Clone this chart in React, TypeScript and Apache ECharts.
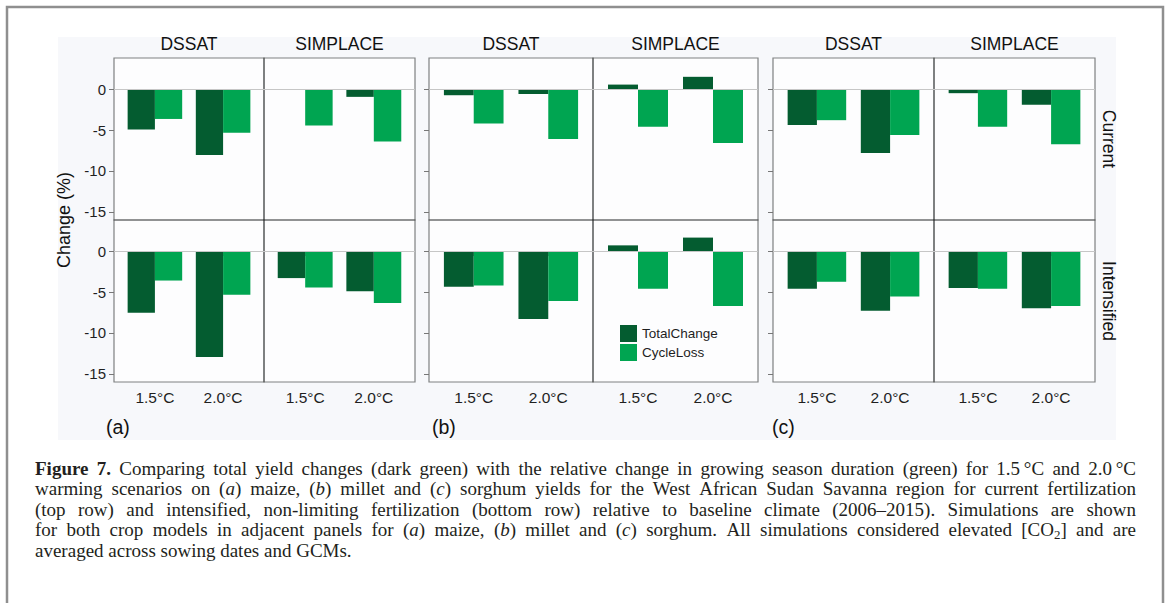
import React, { useEffect, useRef } from "react";
import * as echarts from "echarts";

// ---------- labels ----------
const CATEGORIES = ["1.5°C", "2.0°C"];
const MODELS = ["DSSAT", "SIMPLACE"];
const ROWS = ["Current", "Intensified"];
const CROP_LABELS = ["(a)", "(b)", "(c)"];
const SERIES_NAMES = ["TotalChange", "CycleLoss"];
const Y_TICKS = [-15, -10, -5, 0];
const Y_TITLE = "Change (%)";

// ---------- values: [1.5°C, 2.0°C] ----------
// (a) maize
const A_DSSAT_CURRENT_TOTAL = [-4.95, -8.05];
const A_DSSAT_CURRENT_CYCLE = [-3.65, -5.35];
const A_SIMPLACE_CURRENT_TOTAL = [0, -0.95];
const A_SIMPLACE_CURRENT_CYCLE = [-4.45, -6.4];
const A_DSSAT_INTENS_TOTAL = [-7.55, -12.95];
const A_DSSAT_INTENS_CYCLE = [-3.6, -5.35];
const A_SIMPLACE_INTENS_TOTAL = [-3.3, -4.9];
const A_SIMPLACE_INTENS_CYCLE = [-4.45, -6.35];
// (b) millet
const B_DSSAT_CURRENT_TOTAL = [-0.75, -0.6];
const B_DSSAT_CURRENT_CYCLE = [-4.2, -6.1];
const B_SIMPLACE_CURRENT_TOTAL = [0.55, 1.5];
const B_SIMPLACE_CURRENT_CYCLE = [-4.6, -6.6];
const B_DSSAT_INTENS_TOTAL = [-4.35, -8.3];
const B_DSSAT_INTENS_CYCLE = [-4.2, -6.1];
const B_SIMPLACE_INTENS_TOTAL = [0.7, 1.65];
const B_SIMPLACE_INTENS_CYCLE = [-4.6, -6.7];
// (c) sorghum
const C_DSSAT_CURRENT_TOTAL = [-4.4, -7.8];
const C_DSSAT_CURRENT_CYCLE = [-3.8, -5.6];
const C_SIMPLACE_CURRENT_TOTAL = [-0.5, -1.9];
const C_SIMPLACE_CURRENT_CYCLE = [-4.6, -6.75];
const C_DSSAT_INTENS_TOTAL = [-4.6, -7.3];
const C_DSSAT_INTENS_CYCLE = [-3.75, -5.55];
const C_SIMPLACE_INTENS_TOTAL = [-4.5, -7.0];
const C_SIMPLACE_INTENS_CYCLE = [-4.6, -6.7];

// ---------- caption ----------
// markers: # bold, * italic, _ subscript
const CAPTION_LINES = [
  "#Figure# #7.# Comparing total yield changes (dark green) with the relative change in growing season duration (green) for 1.5\u2009°C and 2.0\u2009°C",
  "warming scenarios on (*a*) maize, (*b*) millet and (*c*) sorghum yields for the West African Sudan Savanna region for current fertilization",
  "(top row) and intensified, non-limiting fertilization (bottom row) relative to baseline climate (2006–2015). Simulations are shown",
  "for both crop models in adjacent panels for (*a*) maize, (*b*) millet and (*c*) sorghum. All simulations considered elevated [CO_2_] and are",
  "averaged across sowing dates and GCMs.",
];

// table [crop][row][model] -> [total, cycle]
const PANEL_TABLE = [
  [
    [[A_DSSAT_CURRENT_TOTAL, A_DSSAT_CURRENT_CYCLE], [A_SIMPLACE_CURRENT_TOTAL, A_SIMPLACE_CURRENT_CYCLE]],
    [[A_DSSAT_INTENS_TOTAL, A_DSSAT_INTENS_CYCLE], [A_SIMPLACE_INTENS_TOTAL, A_SIMPLACE_INTENS_CYCLE]],
  ],
  [
    [[B_DSSAT_CURRENT_TOTAL, B_DSSAT_CURRENT_CYCLE], [B_SIMPLACE_CURRENT_TOTAL, B_SIMPLACE_CURRENT_CYCLE]],
    [[B_DSSAT_INTENS_TOTAL, B_DSSAT_INTENS_CYCLE], [B_SIMPLACE_INTENS_TOTAL, B_SIMPLACE_INTENS_CYCLE]],
  ],
  [
    [[C_DSSAT_CURRENT_TOTAL, C_DSSAT_CURRENT_CYCLE], [C_SIMPLACE_CURRENT_TOTAL, C_SIMPLACE_CURRENT_CYCLE]],
    [[C_DSSAT_INTENS_TOTAL, C_DSSAT_INTENS_CYCLE], [C_SIMPLACE_INTENS_TOTAL, C_SIMPLACE_INTENS_CYCLE]],
  ],
];

// ---------- layout / style ----------
const GROUP_X = [
  [114, 264, 415],
  [429, 593, 758],
  [773, 934, 1095],
];
const ROW_Y = [58, 220, 382];
const SANS = "'Liberation Sans', Arial, Helvetica, sans-serif";
const SERIF = "'Liberation Serif', 'Times New Roman', serif";
const COLORS = ["#045c30", "#00a551"];
const TEXT = "#1f1f1f";
const CAP_SIZE = 19;
const CAP_LEFT = 35;
const CAP_RIGHT = 1136;
const CAP_TOP = 468;
const CAP_LH = 20.5;

type Seg = { text: string; bold: boolean; italic: boolean; sub: boolean };

function parseWord(w: string): Seg[] {
  const segs: Seg[] = [];
  let bold = false, italic = false, sub = false, cur = "";
  const flush = () => {
    if (cur) segs.push({ text: cur, bold, italic, sub });
    cur = "";
  };
  for (const ch of w) {
    if (ch === "#") { flush(); bold = !bold; }
    else if (ch === "*") { flush(); italic = !italic; }
    else if (ch === "_") { flush(); sub = !sub; }
    else cur += ch;
  }
  flush();
  return segs;
}

function buildCaption(): any[] {
  const canvas = document.createElement("canvas");
  const ctx = canvas.getContext("2d")!;
  const out: any[] = [];
  const sizeOf = (s: Seg) => (s.sub ? CAP_SIZE * 0.68 : CAP_SIZE);
  const fontOf = (s: Seg) =>
    `${s.italic ? "italic " : ""}${s.bold ? "bold " : ""}${sizeOf(s)}px ${SERIF}`;
  CAPTION_LINES.forEach((line, li) => {
    const words = line.split(" ").map(parseWord);
    const widths = words.map((segs) =>
      segs.map((s) => {
        ctx.font = fontOf(s);
        return ctx.measureText(s.text).width;
      })
    );
    const wordW = widths.map((ws) => ws.reduce((a, b) => a + b, 0));
    const total = wordW.reduce((a, b) => a + b, 0);
    ctx.font = `${CAP_SIZE}px ${SERIF}`;
    const spaceW = ctx.measureText(" ").width;
    const justify = li < CAPTION_LINES.length - 1;
    let gap = justify ? (CAP_RIGHT - CAP_LEFT - total) / (words.length - 1) : spaceW;
    let scale = 1;
    if (gap < spaceW * 0.6) {
      gap = spaceW * 0.6;
      scale = (CAP_RIGHT - CAP_LEFT - gap * (words.length - 1)) / total;
    }
    const y = CAP_TOP + li * CAP_LH;
    let x = CAP_LEFT;
    words.forEach((segs, wi) => {
      let sx = x;
      segs.forEach((s, si) => {
        out.push({
          type: "text",
          x: sx,
          y: y + (s.sub ? 4.5 : 0),
          scaleX: scale,
          silent: true,
          style: {
            text: s.text,
            fontSize: sizeOf(s),
            fontFamily: SERIF,
            fontStyle: s.italic ? "italic" : "normal",
            fontWeight: s.bold ? "bold" : "normal",
            fill: "#231f20",
            align: "left",
            verticalAlign: "middle",
          },
        });
        sx += widths[wi][si] * scale;
      });
      x += wordW[wi] * scale + gap;
    });
  });
  return out;
}

function buildOption(): any {
  const grids: any[] = [];
  const xAxes: any[] = [];
  const yAxes: any[] = [];
  const series: any[] = [];
  let idx = 0;
  for (let g = 0; g < 3; g++) {
    for (let r = 0; r < 2; r++) {
      for (let m = 0; m < 2; m++) {
        const left = GROUP_X[g][m];
        const width = GROUP_X[g][m + 1] - left;
        const top = ROW_Y[r];
        const height = ROW_Y[r + 1] - top;
        grids.push({
          left,
          top,
          width,
          height,
          show: true,
          backgroundColor: "transparent",
          borderColor: "rgba(25,30,30,0.55)",
          borderWidth: 1.2,
          containLabel: false,
          outerBoundsMode: "none",
        });
        xAxes.push({
          gridIndex: idx,
          type: "value",
          min: 0.4,
          max: 2.6,
          axisLine: { show: false },
          splitLine: { show: false },
          axisTick: {
            show: r === 1,
            customValues: [1, 2],
            length: 5,
            lineStyle: { color: "#777", width: 1 },
          },
          axisLabel: {
            show: r === 1,
            customValues: [1, 2],
            formatter: (v: number) => CATEGORIES[Math.round(v) - 1] ?? "",
            margin: 7,
            fontSize: 15.5,
            fontFamily: SANS,
            color: TEXT,
          },
        });
        yAxes.push({
          gridIndex: idx,
          type: "value",
          min: -16,
          max: 3.8,
          axisLine: { show: false },
          splitLine: { show: false },
          axisTick: {
            show: m === 0,
            customValues: Y_TICKS,
            length: 5,
            lineStyle: { color: "#777", width: 1 },
          },
          axisLabel: {
            show: m === 0 && g === 0,
            customValues: Y_TICKS,
            margin: 8,
            fontSize: 15,
            fontFamily: SANS,
            color: TEXT,
          },
        });
        const pair = PANEL_TABLE[g][r][m];
        SERIES_NAMES.forEach((name, si) => {
          const s: any = {
            type: "bar",
            name,
            xAxisIndex: idx,
            yAxisIndex: idx,
            data: pair[si].map((v: number, k: number) => [k + 1, v]),
            barWidth: "40%",
            barGap: "0%",
            itemStyle: { color: COLORS[si] },
            silent: true,
          };
          if (si === 0) {
            s.markLine = {
              silent: true,
              symbol: "none",
              label: { show: false },
              lineStyle: { color: "#c6c6c6", width: 1.2, type: "solid" },
              data: [{ yAxis: 0 }],
            };
          }
          series.push(s);
        });
        idx++;
      }
    }
  }

  const graphics: any[] = [];
  graphics.push({
    type: "rect",
    z: -10,
    silent: true,
    shape: { x: 58, y: 37, width: 1058, height: 403 },
    style: { fill: "#f7f8fb" },
  });
  GROUP_X.forEach((gx) =>
    graphics.push({
      type: "rect",
      z: -5,
      silent: true,
      shape: { x: gx[0], y: ROW_Y[0], width: gx[2] - gx[0], height: ROW_Y[2] - ROW_Y[0] },
      style: { fill: "#fdfdfe" },
    })
  );
  graphics.push({
    type: "rect",
    silent: true,
    shape: { x: 7, y: 7, width: 1156, height: 700 },
    style: { fill: "none", stroke: "#8f8f8f", lineWidth: 2.5 },
  });
  // strip labels
  GROUP_X.forEach((gx) => {
    MODELS.forEach((name, m) => {
      graphics.push({
        type: "text",
        x: (gx[m] + gx[m + 1]) / 2,
        y: 44,
        silent: true,
        style: { text: name, fontSize: 17.5, fontFamily: SANS, fill: "#111", align: "center", verticalAlign: "middle" },
      });
    });
  });
  ROWS.forEach((name, r) => {
    graphics.push({
      type: "text",
      x: 1109,
      y: (ROW_Y[r] + ROW_Y[r + 1]) / 2,
      rotation: -Math.PI / 2,
      silent: true,
      style: { text: name, fontSize: 17.5, fontFamily: SANS, fill: "#111", align: "center", verticalAlign: "middle" },
    });
  });
  graphics.push({
    type: "text",
    x: 64,
    y: (ROW_Y[0] + ROW_Y[2]) / 2,
    rotation: Math.PI / 2,
    silent: true,
    style: { text: Y_TITLE, fontSize: 18, fontFamily: SANS, fill: "#111", align: "center", verticalAlign: "middle" },
  });
  const cropLabelX = [106, 432, 772];
  CROP_LABELS.forEach((t, g) => {
    graphics.push({
      type: "text",
      x: cropLabelX[g],
      y: 427,
      silent: true,
      style: { text: t, fontSize: 19.5, fontFamily: SANS, fill: "#111", align: "left", verticalAlign: "middle" },
    });
  });
  graphics.push(...buildCaption());

  return {
    animation: false,
    backgroundColor: "#ffffff",
    grid: grids,
    xAxis: xAxes,
    yAxis: yAxes,
    series,
    legend: {
      data: SERIES_NAMES,
      orient: "vertical",
      left: 620,
      top: 325,
      padding: 0,
      itemWidth: 17,
      itemHeight: 17,
      itemGap: 2,
      icon: "rect",
      selectedMode: false,
      textStyle: { fontSize: 13.5, fontFamily: SANS, color: TEXT },
    },
    graphic: { elements: graphics },
  };
}

export default function App() {
  const ref = useRef<HTMLDivElement>(null);
  useEffect(() => {
    document.body.style.margin = "0";
    const chart = echarts.init(ref.current!, undefined, { renderer: "svg" });
    chart.setOption(buildOption());
    return () => chart.dispose();
  }, []);
  return <div ref={ref} style={{ width: 1167, height: 603 }} />;
}
